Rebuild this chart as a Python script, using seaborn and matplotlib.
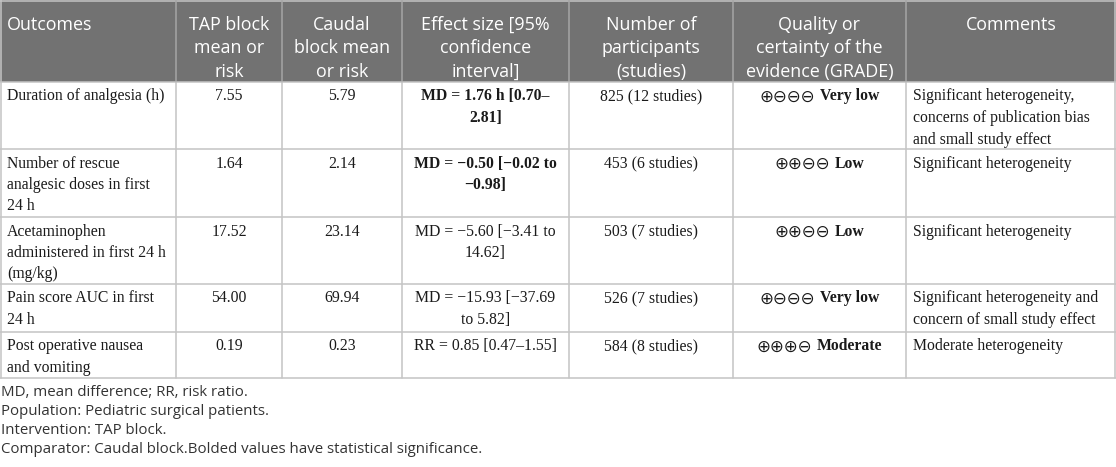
import matplotlib
matplotlib.use("Agg")
import matplotlib.pyplot as plt
import seaborn as sns

sns.set_theme(style="white")
plt.rcParams["font.family"] = ["Liberation Serif", "DejaVu Serif"]

# ---------------- data ----------------
headers = ["Outcomes", "TAP block\nmean or\nrisk", "Caudal\nblock mean\nor risk",
           "Effect size [95%\nconfidence\ninterval]", "Number of\nparticipants\n(studies)",
           "Quality or\ncertainty of the\nevidence (GRADE)", "Comments"]
outcomes = ["Duration of analgesia (h)",
            "Number of rescue\nanalgesic doses in first\n24 h",
            "Acetaminophen\nadministered in first 24 h\n(mg/kg)",
            "Pain score AUC in first\n24 h",
            "Post operative nausea\nand vomiting"]
tap_values = [7.55, 1.64, 17.52, 54.00, 0.19]
caudal_values = [5.79, 2.14, 23.14, 69.94, 0.23]
effects = ["MD = 1.76 h [0.70–\n2.81]",
           "MD = −0.50 [−0.02 to\n−0.98]",
           "MD = −5.60 [−3.41 to\n14.62]",
           "MD = −15.93 [−37.69\nto 5.82]",
           "RR = 0.85 [0.47–1.55]"]
effect_bold = [True, True, False, False, False]
participants = [825, 453, 503, 526, 584]
studies = [12, 6, 7, 7, 8]
grade_plus = [1, 2, 2, 1, 3]
grade_labels = ["Very low", "Low", "Low", "Very low", "Moderate"]
comments = ["Significant heterogeneity,\nconcerns of publication bias\nand small study effect",
            "Significant heterogeneity",
            "Significant heterogeneity",
            "Significant heterogeneity and\nconcern of small study effect",
            "Moderate heterogeneity"]
footnotes = ["MD, mean difference; RR, risk ratio.",
             "Population: Pediatric surgical patients.",
             "Intervention: TAP block.",
             "Comparator: Caudal block.Bolded values have statistical significance."]

# ---------------- layout ----------------
W, H = 1116, 467
col_edges = [0, 176, 282, 402, 569, 733, 906, 1116]
col_align = ["left", "center", "center", "center", "center", "center", "left"]
head_align = ["left", "center", "center", "center", "center", "center", "center"]
header_h = 82
row_heights = [67, 68, 67, 48, 46]
pad_x = 7
line_h = 21.5
head_line_h = 23.3

HEAD_BG = "#727272"
GRID = "#c4c4c4"
HEAD_SEP = "#a6a6a6"
TEXT = "#1a1a1a"
FOOT = "#333333"
sans = ["Open Sans", "DejaVu Sans"]
serif = ["Liberation Serif", "DejaVu Serif"]
body_fs = 11.3
head_fs = 12.9
foot_fs = 10.8
sym_fs = 12.0

fig = plt.figure(figsize=(W / 100, H / 100), dpi=100)
ax = fig.add_axes([0, 0, 1, 1])
ax.set_xlim(0, W)
ax.set_ylim(H, 0)
ax.axis("off")
renderer = fig.canvas.get_renderer()


def cell_x(ci, align):
    if align == "left":
        return col_edges[ci] + pad_x
    return (col_edges[ci] + col_edges[ci + 1]) / 2


# header background
ax.fill_between([0, W], 0, header_h, color=HEAD_BG, lw=0, zorder=0)
for ci, h in enumerate(headers):
    for li, line in enumerate(h.split("\n")):
        ax.text(cell_x(ci, head_align[ci]), 25 + li * head_line_h, line,
                ha=head_align[ci], va="center",
                color="white", fontsize=head_fs, family=sans, zorder=3)

# body rows
tops = [header_h]
for rh in row_heights:
    tops.append(tops[-1] + rh)


def draw_lines(ci, top, text, weight="normal"):
    for li, line in enumerate(text.split("\n")):
        ax.text(cell_x(ci, col_align[ci]), top + 14.5 + li * line_h, line,
                ha=col_align[ci], va="center",
                color=TEXT, fontsize=body_fs, family=serif, fontweight=weight, zorder=3)


for ri in range(len(outcomes)):
    top = tops[ri]
    draw_lines(0, top, outcomes[ri])
    draw_lines(1, top, f"{tap_values[ri]:.2f}")
    draw_lines(2, top, f"{caudal_values[ri]:.2f}")
    draw_lines(3, top, effects[ri], "bold" if effect_bold[ri] else "normal")
    draw_lines(4, top, f"{participants[ri]} ({studies[ri]} studies)")
    draw_lines(6, top, comments[ri])
    # GRADE symbols + bold label, centred together
    sym = "⊕" * grade_plus[ri] + "⊖" * (4 - grade_plus[ri])
    y = top + 14.5
    t1 = ax.text(0, y, sym, ha="left", va="center", color=TEXT, fontsize=sym_fs,
                 family=["DejaVu Sans"], zorder=3)
    t2 = ax.text(0, y, grade_labels[ri], ha="left", va="center", color=TEXT,
                 fontsize=body_fs, family=serif, fontweight="bold", zorder=3)
    w1 = t1.get_window_extent(renderer).width
    w2 = t2.get_window_extent(renderer).width
    gap = 5
    x0 = cell_x(5, "center") - (w1 + gap + w2) / 2
    t1.set_x(x0)
    t2.set_x(x0 + w1 + gap)

# grid lines
lw = 1.1
bottom = tops[-1]
for y in tops[1:]:
    ax.plot([0, W], [y, y], color=GRID, lw=lw, zorder=2)
ax.plot([0, W], [header_h, header_h], color=GRID, lw=lw, zorder=2)
ax.plot([0, W], [0.5, 0.5], color=GRID, lw=lw, zorder=2)
for x in col_edges[1:-1]:
    ax.plot([x, x], [0, header_h], color=HEAD_SEP, lw=lw, zorder=2)
    ax.plot([x, x], [header_h, bottom], color=GRID, lw=lw, zorder=2)
ax.plot([0.6, 0.6], [0, bottom], color=GRID, lw=lw, zorder=2)
ax.plot([W - 0.6, W - 0.6], [0, bottom], color=GRID, lw=lw, zorder=2)

# footnotes
for fi, note in enumerate(footnotes):
    ax.text(1, bottom + 14 + fi * 19.3, note, ha="left", va="center", color=FOOT,
            fontsize=foot_fs, family=sans, zorder=3)

fig.savefig("out.png", dpi=100)
